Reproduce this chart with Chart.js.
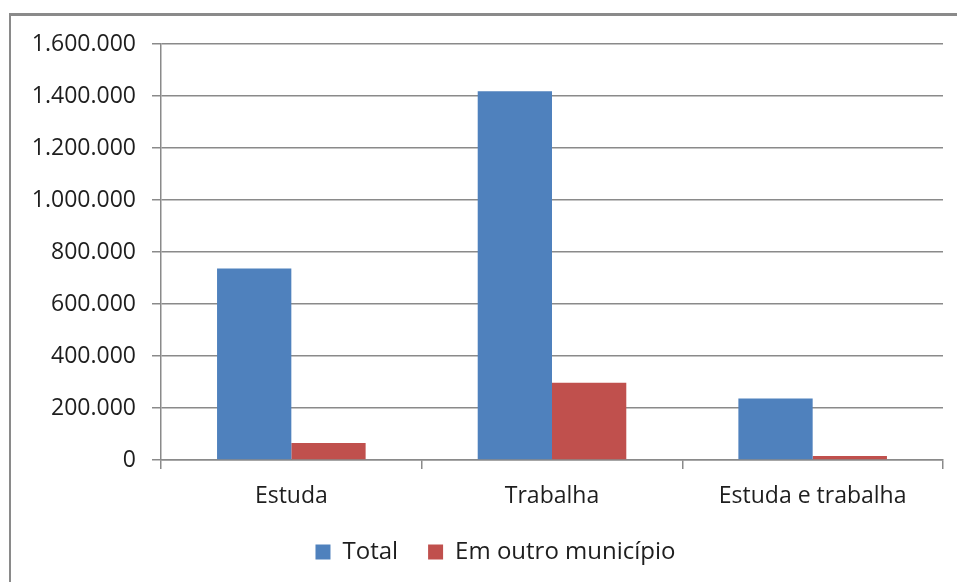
<!DOCTYPE html>
<html>
<head>
<meta charset="utf-8">
<script src="https://cdn.jsdelivr.net/npm/chart.js@4/dist/chart.umd.min.js"></script>
<style>
  html, body { margin: 0; padding: 0; background: #fff; overflow: hidden; width: 957px; height: 582px; }
  #frame { position: absolute; left: 9px; top: 13px; width: 1200px; height: 1200px;
           border-left: 2px solid #8a8a8a; border-top: 3px solid #8a8a8a; }
  #c { position: absolute; left: 0; top: 0; }
</style>
</head>
<body>
<div id="frame"></div>
<canvas id="c" width="957" height="582"></canvas>
<script>
const categories = ["Estuda", "Trabalha", "Estuda e trabalha"];
const seriesNames = ["Total", "Em outro município"];
const totalValues = [737000, 1418000, 237000];
const outroMunicipioValues = [65500, 297500, 15500];
const yTicks = [0, 200000, 400000, 600000, 800000, 1000000, 1200000, 1400000, 1600000];

function fmt(v) {
  return String(Math.round(v)).replace(/\B(?=(\d{3})+(?!\d))/g, ".");
}

const FONT = "'Open Sans', 'Noto Sans', sans-serif";
const TEXT = "#1e1e1e";
const GRID = "#8a8a8a";

const shiftLegend = {
  id: "shiftLegend",
  afterLayout(chart) {
    if (chart.legend) { chart.legend.left += 24; chart.legend.right += 24; }
  }
};

new Chart(document.getElementById("c"), {
  type: "bar",
  data: {
    labels: categories,
    datasets: [
      { label: seriesNames[0], data: totalValues, backgroundColor: "#4F81BD", borderWidth: 0,
        categoryPercentage: 0.57, barPercentage: 1.0 },
      { label: seriesNames[1], data: outroMunicipioValues, backgroundColor: "#C0504D", borderWidth: 0,
        categoryPercentage: 0.57, barPercentage: 1.0 }
    ]
  },
  plugins: [shiftLegend],
  options: {
    responsive: false,
    animation: false,
    layout: { padding: { left: 0, right: 14, top: 44, bottom: 8 } },
    plugins: {
      tooltip: { enabled: false },
      legend: {
        position: "bottom",
        labels: {
          font: { family: FONT, size: 24 },
          color: TEXT,
          boxWidth: 15,
          boxHeight: 15,
          padding: 30
        }
      }
    },
    scales: {
      x: {
        grid: { display: true, drawOnChartArea: false, drawTicks: true, tickLength: 9, color: GRID, lineWidth: 1.5, offset: true },
        border: { display: true, color: GRID, width: 1.5 },
        ticks: { font: { family: FONT, size: 23 }, color: TEXT, padding: 14, maxRotation: 0 },
        afterFit: (s) => { s.height = 50; }
      },
      y: {
        min: 0, max: 1600000,
        afterBuildTicks: (s) => { s.ticks = yTicks.map(v => ({ value: v })); },
        grid: { color: GRID, lineWidth: 1.5, tickLength: 9, drawTicks: true },
        border: { display: true, color: GRID, width: 1.5 },
        ticks: { font: { family: FONT, size: 23 }, color: TEXT, padding: 16, callback: (v) => fmt(v) },
        afterFit: (s) => { s.width = 161; }
      }
    }
  }
});
</script>
</body>
</html>
